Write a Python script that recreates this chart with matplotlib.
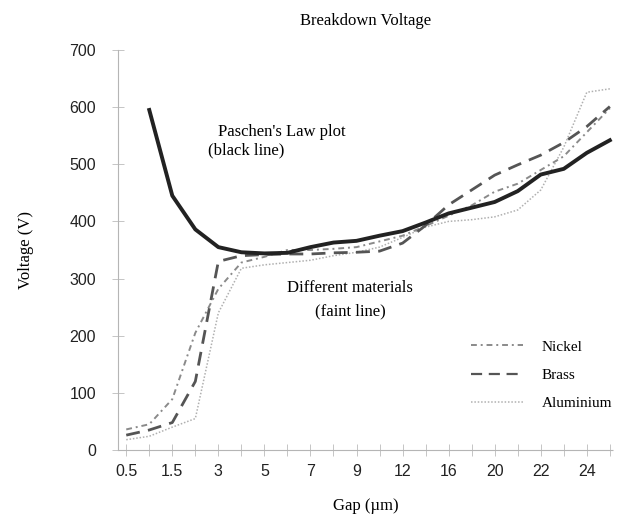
import numpy as np
import matplotlib.pyplot as plt
from matplotlib.lines import Line2D

# --- data (gap categories, voltages in V) ---
gap = ['0.5', '1', '1.5', '2', '3', '4', '5', '6', '7', '8', '9', '10',
       '12', '14', '16', '18', '20', '21', '22', '23', '24', '25']
gap_labels = ['0.5', '', '1.5', '', '3', '', '5', '', '7', '', '9', '',
              '12', '', '16', '', '20', '', '22', '', '24', '']

paschen = [np.nan, 595, 445, 386, 355, 346, 344, 345, 355, 363, 366,
           375, 383, 398, 414, 424, 434, 453, 482, 492, 520, 542]
nickel = [36, 45, 89, 205, 282, 328, 338, 350, 350, 352, 355,
          365, 375, 392, 410, 428, 452, 466, 490, 514, 556, 598]
brass = [26, 35, 48, 120, 330, 340, 342, 343, 343, 345, 346,
         348, 362, 393, 429, 455, 481, 499, 516, 538, 566, 601]
aluminium = [18, 24, 40, 55, 240, 318, 324, 328, 332, 340, 346,
             355, 372, 390, 400, 403, 408, 420, 455, 530, 626, 632]

serif = ['Liberation Serif', 'DejaVu Serif']
plt.rcParams['font.family'] = ['Liberation Sans', 'DejaVu Sans']

fig = plt.figure(figsize=(6.22, 5.26), dpi=100)
ax = fig.add_axes([0.19, 0.1445, 0.796, 0.7605])

x = np.arange(len(gap))
ax.plot(x, aluminium, color='#b0b0b0', lw=1.1, ls=(0, (1, 1.2)))
ax.plot(x, nickel, color='#8a8a8a', lw=1.4, ls=(0, (3, 2, 1, 2)))
ax.plot(x, brass, color='#555555', lw=2.0, ls=(0, (5, 3)))
ax.plot(x, paschen, color='#222222', lw=2.8)

ax.set_xlim(-0.35, 21.15)
ax.set_ylim(0, 700)
ax.set_xticks(x)
ax.set_xticklabels(gap_labels)
ax.set_yticks(np.arange(0, 701, 100))

for s in ['top', 'right']:
    ax.spines[s].set_visible(False)
for s in ['left', 'bottom']:
    ax.spines[s].set_color('#b5b5b5')
    ax.spines[s].set_linestyle((0, (1, 1)))
    ax.spines[s].set_linewidth(0.8)
ax.tick_params(axis='both', direction='inout', length=8, width=0.6,
               color='#bbbbbb', labelsize=11.5, labelcolor='#222222')
ax.tick_params(axis='x', pad=6)
ax.tick_params(axis='y', pad=12)

ax.set_title('Breakdown Voltage', family=serif, fontsize=12, pad=18)
ax.set_ylabel('Voltage (V)', family=serif, fontsize=12, labelpad=25)
ax.set_xlabel('Gap (\u00b5m)', family=serif, fontsize=12, labelpad=14)

ax.text(4.0, 557, "Paschen's Law plot", family=serif, fontsize=12, va='center')
ax.text(3.55, 524, '(black line)', family=serif, fontsize=12, va='center')
ax.text(7.0, 283, 'Different materials', family=serif, fontsize=12, va='center')
ax.text(8.2, 242, '(faint line)', family=serif, fontsize=12, va='center')

handles = [
    Line2D([0], [0], color='#8a8a8a', lw=1.4, ls=(0, (3, 2, 1, 2))),
    Line2D([0], [0], color='#555555', lw=1.6, ls=(0, (5, 3))),
    Line2D([0], [0], color='#b0b0b0', lw=1.1, ls=(0, (1, 1.2))),
]
ax.legend(handles, ['Nickel', 'Brass', 'Aluminium'], loc='lower right',
          bbox_to_anchor=(1.025, 0.065), frameon=False, handlelength=3.4,
          handletextpad=1.2, labelspacing=0.95,
          prop={'family': serif, 'size': 11})

fig.savefig('out.png', dpi=100)
